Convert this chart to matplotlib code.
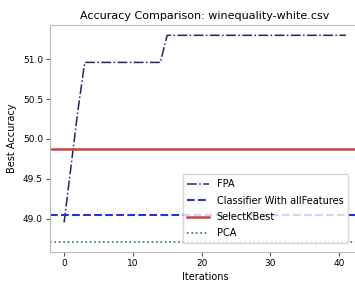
import matplotlib
matplotlib.use("Agg")
import matplotlib.pyplot as plt
import numpy as np

iterations = list(range(0, 42))
fpa_values = [48.95, 49.65, 50.35, 50.96] + [50.96] * 11 + [51.3] * 27
classifier_all = 49.05
selectkbest = 49.875
pca = 48.71
title = "Accuracy Comparison: winequality-white.csv"
labels = ["FPA", "Classifier With allFeatures", "SelectKBest", "PCA"]

fig = plt.figure(figsize=(3.55, 2.88), dpi=100)
ax = fig.add_axes([50/355, 1-252/288, 310/355, (252-25)/288])

ax.plot(iterations, fpa_values, linestyle="-.", color="#1c2a5c", linewidth=1.1, label=labels[0])
ax.axhline(classifier_all, linestyle="--", color="#2a2fd0", linewidth=1.5, label=labels[1])
ax.axhline(selectkbest, linestyle="-", color="#d0404c", linewidth=1.8, label=labels[2])
ax.axhline(pca, linestyle=":", color="#2e7d32", linewidth=1.2, label=labels[3])

ax.set_xticks([0, 10, 20, 30, 40])
ax.set_yticks([49.0, 49.5, 50.0, 50.5, 51.0])
ax.tick_params(labelsize=6.5, color="#555555", length=3, pad=2)
for s in ax.spines.values():
    s.set_color("#bbbbbb")
ax.set_title(title, fontsize=8, pad=4)
ax.set_xlabel("Iterations", fontsize=7, labelpad=3)
ax.set_ylabel("Best Accuracy", fontsize=7, labelpad=4)
leg = ax.legend(loc="lower right", fontsize=7, frameon=True,
                bbox_to_anchor=(353/355, 1-248/288), bbox_transform=fig.transFigure,
                handlelength=2.2, borderpad=0.5, labelspacing=0.65)
leg.get_frame().set_edgecolor("#cccccc")

fig.savefig("out.png", dpi=100)
